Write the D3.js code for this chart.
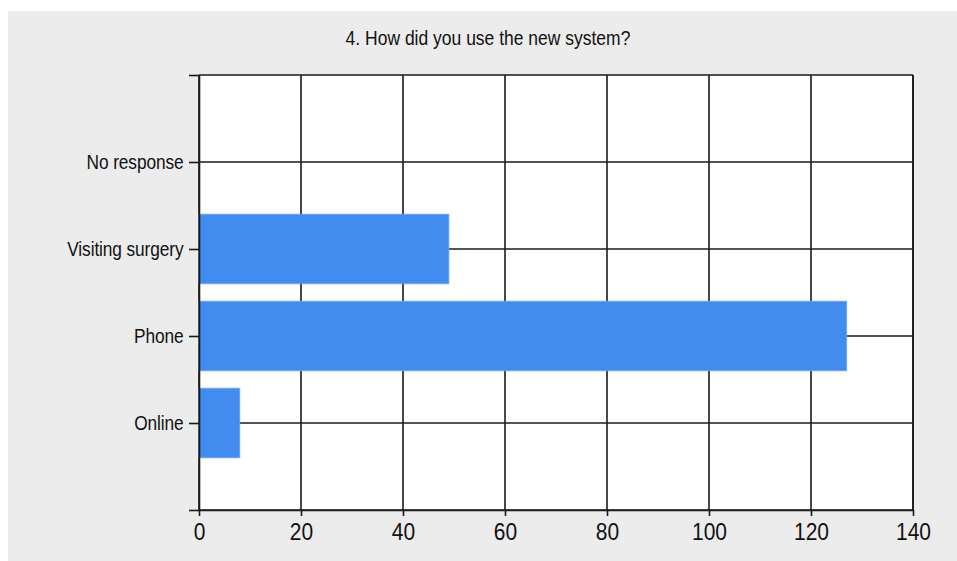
<!DOCTYPE html>
<html><head><meta charset="utf-8">
<script src="https://cdn.jsdelivr.net/npm/d3@7"></script>
<style>body{margin:0;background:#fff}svg{display:block}text{font-family:"Liberation Sans",Arial,sans-serif;fill:#111}</style>
</head><body>
<svg id="c" width="957" height="561"></svg>
<script>
const title = "4. How did you use the new system?";
const categories = ["Online", "Phone", "Visiting surgery", "No response"];
const values = [8, 127, 49, 0];
const xTicks = [0, 20, 40, 60, 80, 100, 120, 140];

const svg = d3.select("#c");
svg.append("rect").attr("x", 8).attr("y", 11).attr("width", 949).attr("height", 550).attr("fill", "#ececec");

const L = 199, R = 913, T = 75, B = 510;
const x = d3.scaleLinear().domain([0, 140]).range([L, R]);
const y = d3.scaleLinear().domain([0, categories.length + 1]).range([B, T]);

svg.append("rect").attr("x", L).attr("y", T).attr("width", R - L).attr("height", B - T).attr("fill", "#fff");

// vertical gridlines
svg.append("g").selectAll("line").data(xTicks).join("line")
  .attr("x1", d => x(d)).attr("x2", d => x(d)).attr("y1", T).attr("y2", B)
  .attr("stroke", "#1a1a1a").attr("stroke-width", 1.6);
// horizontal gridlines at categories and edges
const yLines = d3.range(0, categories.length + 2);
svg.append("g").selectAll("line").data(yLines).join("line")
  .attr("x1", L).attr("x2", R).attr("y1", d => y(d)).attr("y2", d => y(d))
  .attr("stroke", "#1a1a1a").attr("stroke-width", 1.6);

// bars
svg.append("g").selectAll("rect").data(values).join("rect")
  .attr("x", x(0)).attr("y", (d, i) => y(i + 1 + 0.4))
  .attr("width", d => x(d) - x(0)).attr("height", y(0) - y(0.8))
  .attr("fill", "#418cee").attr("stroke", "#6aa6f4").attr("stroke-width", 0.8);

// x axis
const xAxis = d3.axisBottom(x).tickValues(xTicks).tickSize(6).tickSizeOuter(0).tickPadding(7);
const gx = svg.append("g").attr("transform", `translate(0,${B})`).call(xAxis);
gx.select(".domain").attr("stroke", "#1a1a1a").attr("stroke-width", 1.6);
gx.selectAll(".tick line").attr("stroke", "#1a1a1a").attr("stroke-width", 1.6);
gx.selectAll("text").attr("font-size", 21).attr("font-family", "Liberation Sans, Arial").attr("fill", "#111")
  .attr("transform", "translate(0,13) scale(1,1.12) translate(0,-13)");

// y axis
const yAxis = d3.axisLeft(y).tickValues(yLines).tickSize(10).tickSizeOuter(0).tickPadding(5.5)
  .tickFormat(d => (d >= 1 && d <= categories.length) ? categories[d - 1] : "");
const gy = svg.append("g").attr("transform", `translate(${L},0)`).call(yAxis);
gy.select(".domain").attr("stroke", "#1a1a1a").attr("stroke-width", 1.6);
gy.selectAll(".tick line").attr("stroke", "#1a1a1a").attr("stroke-width", 1.6);
gy.selectAll("text").attr("font-size", 17.3).attr("font-family", "Liberation Sans, Arial").attr("fill", "#111")
  .attr("letter-spacing", -0.1).attr("transform", "scale(1,1.2)");

// right border
svg.append("line").attr("x1", R).attr("x2", R).attr("y1", T).attr("y2", B).attr("stroke", "#1a1a1a").attr("stroke-width", 1.6);

svg.append("text").attr("transform", "translate(488,45) scale(1,1.2)").attr("text-anchor", "middle")
  .attr("font-size", 17.5).text(title);
</script>
</body></html>
